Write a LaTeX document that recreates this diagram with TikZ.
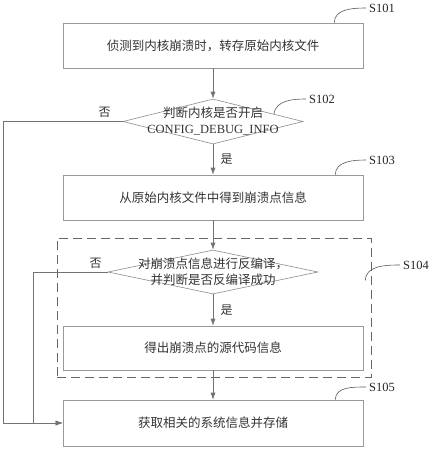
\documentclass[tikz,border=0pt]{standalone}
\usepackage{fontspec}
\setmainfont{Liberation Serif}
\newfontfamily\cjk{Noto Sans CJK SC}
\usetikzlibrary{shapes.geometric,arrows.meta,positioning}

\tikzset{
	stepbox/.style={draw=black!40, line width=0.6pt, minimum width=300pt, minimum height=45pt, inner sep=0pt,
		font=\cjk\fontsize{12.5}{15}\selectfont, text=black!80},
	decision/.style={draw=black!45, line width=0.6pt, shape=diamond, inner sep=0pt},
	dtext/.style={align=center, inner sep=0pt, font=\fontsize{12.5}{16}\selectfont, text=black!80},
	groupbox/.style={draw=black!60, line width=0.8pt, dash pattern=on 9pt off 5pt, minimum width=314pt, minimum height=139pt},
	slabel/.style={font=\fontsize{12.5}{15}\selectfont, text=black!85, inner sep=3pt},
	tag/.style={font=\cjk\fontsize{12}{14}\selectfont, text=black!80},
	flow/.style={draw=black!55, line width=0.6pt, -{Latex[length=7pt,width=5pt]}},
	hook/.style={draw=black!65, line width=0.6pt},
}

\begin{document}
\begin{tikzpicture}[x=1pt,y=-1pt]
		\useasboundingbox (0,0) rectangle (432,450);

		\draw (214,307.5) node [groupbox] (s104) {};

		\draw (213,45.5) node [stepbox] (s101) {侦测到内核崩溃时，转存原始内核文件};
		\draw (213,121.5) node [decision, minimum width=180pt, minimum height=45pt,
			label={[dtext]center:{\cjk 判断内核是否开启}\\CONFIG\_DEBUG\_INFO}] (s102) {};
		\draw (213,197.5) node [stepbox] (s103) {从原始内核文件中得到崩溃点信息};
		\draw (213,272) node [decision, minimum width=210pt, minimum height=44pt,
			label={[dtext, font=\cjk\fontsize{12.5}{16}\selectfont]center:对崩溃点信息进行反编译，\\并判断是否反编译成功}] (s104d) {};
		\draw (213,348) node [stepbox, minimum height=44pt] (s104b) {得出崩溃点的源代码信息};
		\draw (213,423) node [stepbox, minimum height=46pt] (s105) {获取相关的系统信息并存储};

		\draw (382,8) node [slabel] (l101) {S101};
		\draw (322,99) node [slabel] (l102) {S102};
		\draw (382,160) node [slabel] (l103) {S103};
		\draw (416,265) node [slabel] (l104) {S104};
		\draw (382,387) node [slabel] (l105) {S105};

		\coordinate (c102) at (3,121.5);
		\coordinate (c104) at (33,272);

		\draw
			(s101) edge [flow] (s102)
			(s102) edge [flow] node [tag, right=4pt] {是} (s103)
			(s103) edge [flow] (s104d)
			(s104d) edge [flow] node [tag, right=4pt] {是} (s104b)
			(s104b) edge [flow] (s105)
		;
		\draw [flow] (s102.west) -- node [tag, above, pos=0.15] {否} (c102) |- (s105.west);
		\draw [flow] (s104d.west) -- node [tag, above, pos=0.16] {否} (c104) |- (s105.west);

		\draw [hook] ([xshift=-29pt]s101.north east) to [out=90, in=180] (l101.west);
		\draw [hook] (s102.7) to [out=80, in=180] (l102.west);
		\draw [hook] ([xshift=-28pt]s103.north east) to [out=90, in=180] (l103.west);
		\draw [hook] ([yshift=27pt, xshift=-6pt]s104.east) to [out=90, in=180] (l104.west);
		\draw [hook] ([xshift=-28pt]s105.north east) to [out=90, in=180] (l105.west);
	\end{tikzpicture}
\end{document}
